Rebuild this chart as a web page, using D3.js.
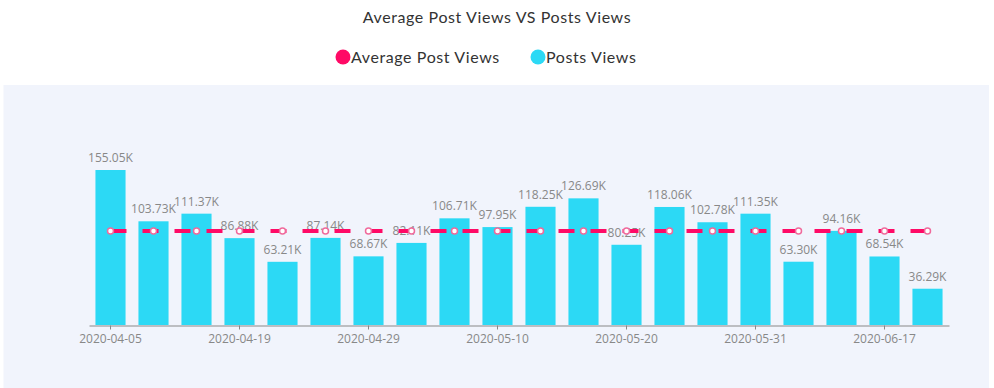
<!DOCTYPE html>
<html><head><meta charset="utf-8">
<script src="https://cdn.jsdelivr.net/npm/d3@7"></script>
<style>body{margin:0;background:#fff;}svg{display:block;font-family:Lato,"Open Sans",sans-serif;}</style>
</head><body>
<svg id="c" width="994" height="388"></svg>
<script>
const categories = ["2020-04-05","2020-04-09","2020-04-14","2020-04-19","2020-04-22","2020-04-26","2020-04-29","2020-05-03","2020-05-06","2020-05-10","2020-05-13","2020-05-17","2020-05-20","2020-05-24","2020-05-27","2020-05-31","2020-06-04","2020-06-10","2020-06-17","2020-06-24"];
const postsViews = [155.05,103.73,111.37,86.88,63.21,87.14,68.67,82.11,106.71,97.95,118.25,126.69,80.25,118.06,102.78,111.35,63.30,94.16,68.54,36.29];
const averageViews = categories.map(() => 94.12);
const tickLabels = ["2020-04-05","2020-04-19","2020-04-29","2020-05-10","2020-05-20","2020-05-31","2020-06-17"];
const title = "Average Post Views VS Posts Views";
const seriesNames = ["Average Post Views","Posts Views"];
const colors = {avg:"#ff0a66", bar:"#2cd9f5"};

const svg = d3.select("#c");
svg.append("rect").attr("x",3.5).attr("y",85).attr("width",985.5).attr("height",303).attr("fill","#f1f4fc");

svg.append("text").attr("x",497).attr("y",22.5).attr("text-anchor","middle").attr("font-size",16).attr("letter-spacing",0.6).attr("fill","#333").text(title);

// legend
const lg = [{n:seriesNames[0],c:colors.avg,x:343},{n:seriesNames[1],c:colors.bar,x:538}];
lg.forEach(d=>{
  svg.append("circle").attr("cx",d.x).attr("cy",57).attr("r",7.5).attr("fill",d.c);
  svg.append("text").attr("x",d.x+8).attr("y",63).attr("font-size",16).attr("letter-spacing",0.6).attr("fill","#333").text(d.n);
});

const x = d3.scaleBand().domain(categories).range([89,949]).paddingInner(0.3).paddingOuter(0.15);
const y = d3.scaleLinear().domain([0,155.05]).range([325,170]);

svg.append("g").selectAll("rect").data(postsViews).join("rect")
  .attr("x",(d,i)=>x(categories[i])).attr("width",x.bandwidth())
  .attr("y",d=>y(d)).attr("height",d=>y(0)-y(d)).attr("fill",colors.bar);

const ax = svg.append("g").attr("transform","translate(0,325.5)")
  .call(d3.axisBottom(x).tickValues(tickLabels).tickSize(4).tickSizeOuter(0));
ax.select(".domain").attr("stroke","#888");
ax.selectAll(".tick line").attr("stroke","#888");
ax.selectAll(".tick text").attr("fill","#888").attr("font-size",12).attr("font-family","'Open Sans',sans-serif").attr("dy","0.9em");

// labels
svg.append("g").selectAll("text").data(postsViews).join("text")
  .attr("x",(d,i)=>x(categories[i])+x.bandwidth()/2).attr("y",d=>y(d)-8)
  .attr("text-anchor","middle").attr("font-size",12).attr("fill","#888")
  .attr("font-family","'Open Sans',sans-serif")
  .text(d=>d.toFixed(2)+"K");

const cx = (d,i)=>x(categories[i])+x.bandwidth()/2;
svg.append("path").datum(averageViews)
  .attr("d",d3.line().x(cx).y(d=>y(d)))
  .attr("fill","none").attr("stroke",colors.avg).attr("stroke-width",4).attr("stroke-dasharray","16,16");
svg.append("g").selectAll("circle").data(averageViews).join("circle")
  .attr("cx",cx).attr("cy",d=>y(d)).attr("r",3).attr("fill","#fff").attr("stroke","#f06a9c").attr("stroke-width",1.5);
</script>
</body></html>
